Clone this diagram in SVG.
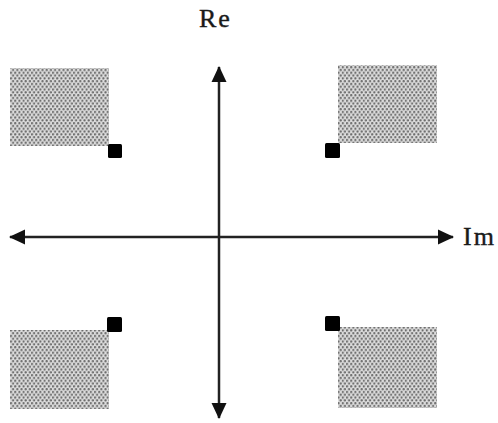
<svg xmlns="http://www.w3.org/2000/svg" width="498" height="423" viewBox="0 0 498 423">
<style>
.lbl{font-family:"Liberation Serif","Times New Roman",serif;font-size:26px;fill:#1a1a1a;letter-spacing:2px;stroke:#1a1a1a;stroke-width:0.4}
.axis{stroke:#222;stroke-width:2.5;fill:none}
.shade{fill:url(#dots)}
.pt{fill:#000}
</style>
<defs>
<pattern id="dots" patternUnits="userSpaceOnUse" x="10" y="66" width="4.2" height="5.6">
<rect width="4.2" height="5.6" fill="#dcdcdc"/>
<circle cx="1" cy="1.2" r="1.15" fill="#6a6a6a"/>
<circle cx="3.1" cy="4" r="1.15" fill="#6a6a6a"/>
</pattern>
<marker id="arr" viewBox="0 0 16 16" refX="15" refY="8" markerWidth="16" markerHeight="16" markerUnits="userSpaceOnUse" orient="auto">
<path d="M0,0.5 L16,8 L0,15.5 z" fill="#111"/>
</marker>
</defs>
<g id="regions">
<rect id="q2" class="shade" x="10" y="68" width="99" height="78"/>
<rect id="q1" class="shade" x="338" y="65" width="99" height="78"/>
<rect id="q3" class="shade" x="10" y="330" width="99" height="79"/>
<rect id="q4" class="shade" x="338" y="327" width="99" height="81"/>
</g>
<g id="connectors">
<line class="axis" x1="219" y1="237" x2="219" y2="67" marker-end="url(#arr)"/>
<line class="axis" x1="219" y1="237" x2="219" y2="418" marker-end="url(#arr)"/>
<line class="axis" x1="219" y1="237" x2="10" y2="237" marker-end="url(#arr)"/>
<line class="axis" x1="219" y1="237" x2="453" y2="237" marker-end="url(#arr)"/>
</g>
<g id="points">
<rect id="p2" class="pt" x="108" y="144" width="14" height="14" rx="1.5"/>
<rect id="p1" class="pt" x="325" y="143" width="15" height="15" rx="1.5"/>
<rect id="p3" class="pt" x="107" y="317" width="15" height="15" rx="1.5"/>
<rect id="p4" class="pt" x="325" y="316" width="15" height="15" rx="1.5"/>
</g>
<g id="labels">
<text class="lbl" x="199" y="27">Re</text>
<text class="lbl" x="463" y="245">Im</text>
</g>
</svg>
